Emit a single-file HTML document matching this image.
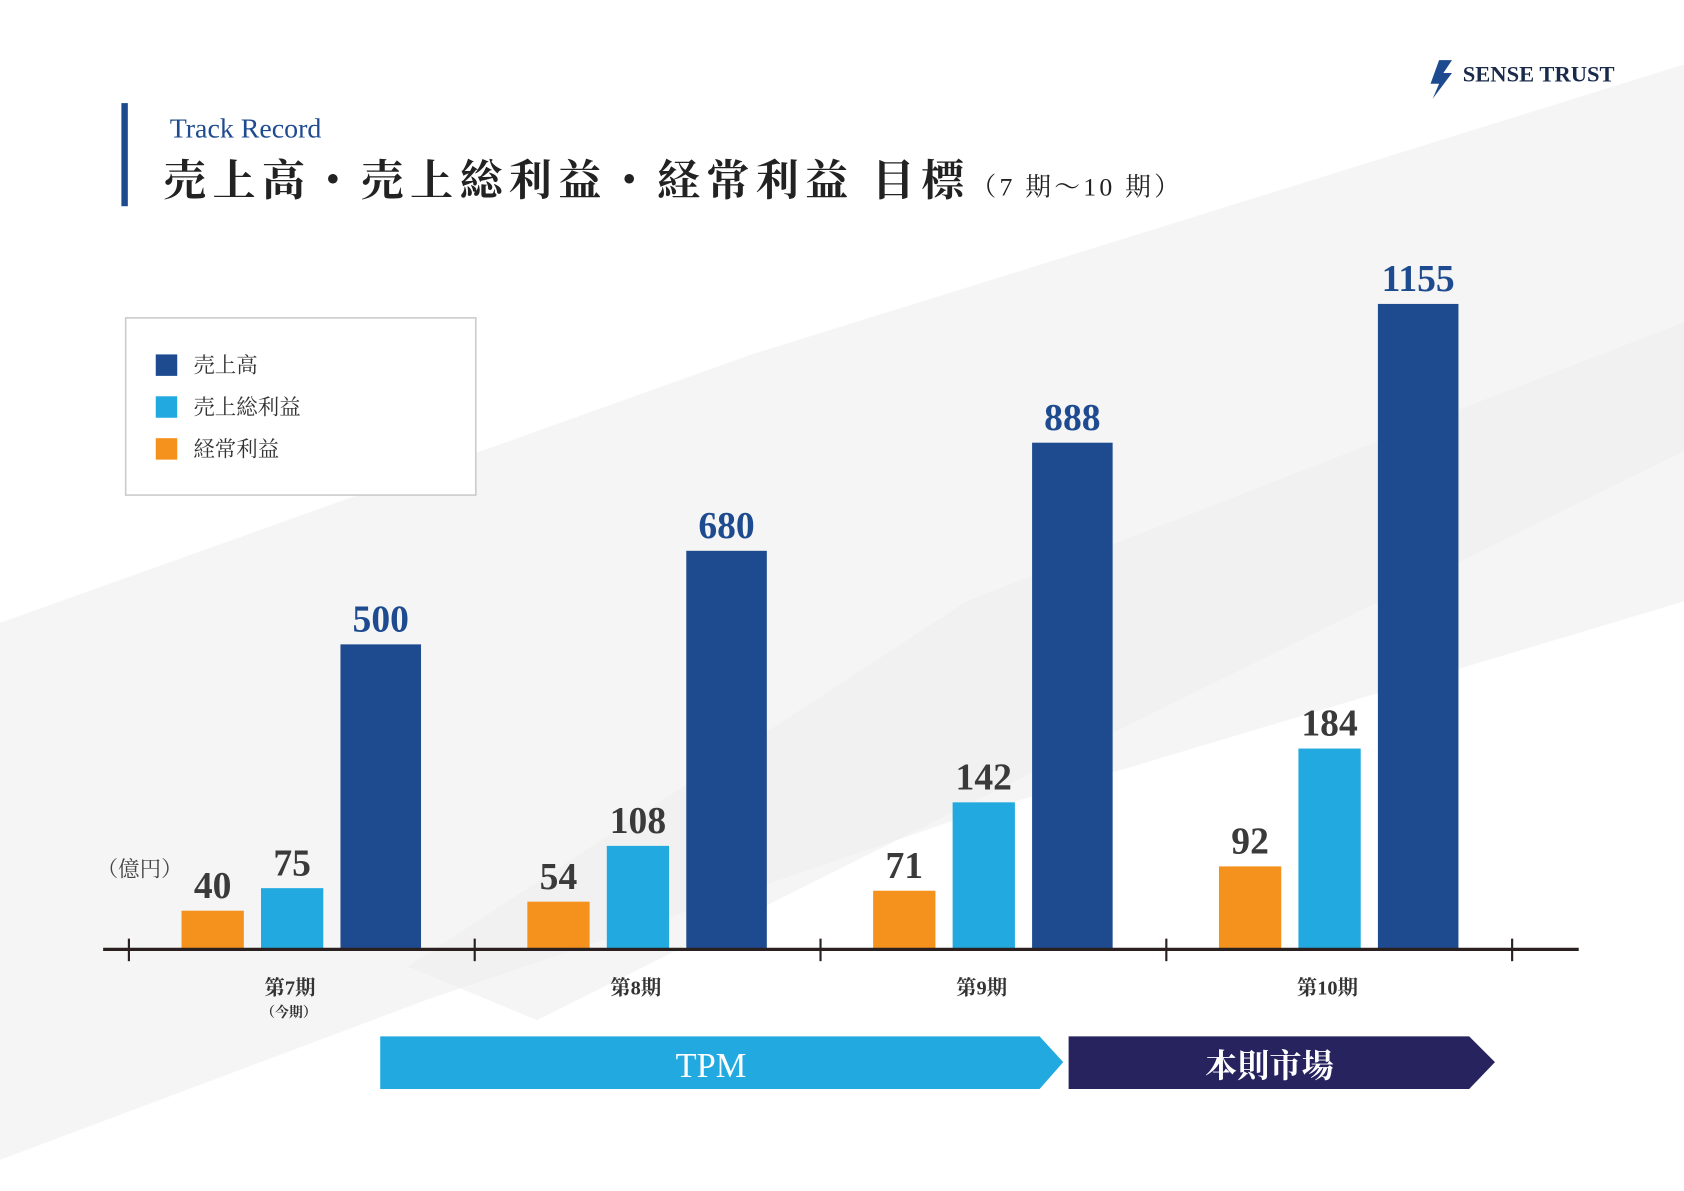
<!DOCTYPE html>
<html><head><meta charset="utf-8"><style>
html,body{margin:0;padding:0;background:#fff}
svg{display:block}
text{font-family:"Liberation Serif","Noto Serif CJK SC","Noto Sans CJK JP",serif}
</style></head><body>
<svg id="chart" width="1684" height="1191" viewBox="0 0 1568 1109" xmlns="http://www.w3.org/2000/svg">
<rect width="1568" height="1109" fill="#fff"/>
<g fill="#f1f2f1">
<polygon points="0,580 700,330 1568,60 1568,560 900,760 400,930 0,1080" opacity="0.8"/>
<polygon points="380,900 900,560 1568,300 1568,420 1000,700 500,950" fill="#eceeed" opacity="0.6"/>
</g>
<g>
<path d="M1340,56 l12,0 -8,12 8,0 -18,24 6,-14 -8,0z" fill="#1e4b8f"/>
<text x="1362" y="76" font-family="Liberation Sans,sans-serif" font-weight="bold" font-size="21" fill="#1a2a4a">SENSE TRUST</text>
</g>
<rect x="113" y="96" width="6" height="96" fill="#1e4b8f"/>
<text x="158" y="128" font-size="26" fill="#1e4b8f">Track Record</text>
<text x="152" y="182" font-size="40" font-weight="bold" fill="#222" letter-spacing="6">売上高・売上総利益・経常利益 目標<tspan font-size="24" font-weight="normal" letter-spacing="3">（7 期〜10 期）</tspan></text>
<g>
<rect x="117" y="296" width="326" height="165" fill="#fff" stroke="#ccc" stroke-width="1.5"/>
<rect x="145" y="330" width="20" height="20" fill="#1e4b8f"/><text x="180" y="347" font-size="20" fill="#333">売上高</text>
<rect x="145" y="369" width="20" height="20" fill="#22aae0"/><text x="180" y="386" font-size="20" fill="#333">売上総利益</text>
<rect x="145" y="408" width="20" height="20" fill="#f5921e"/><text x="180" y="425" font-size="20" fill="#333">経常利益</text>
</g>
<text x="90" y="816" font-size="20" fill="#444">（億円）</text>
<g id="bars"></g>
<line x1="96" y1="884" x2="1470" y2="884" stroke="#2a2020" stroke-width="3"/>
<g id="ticks"></g>
<text x="269" y="947" font-size="13" text-anchor="middle" fill="#333" font-weight="bold">（今期）</text>
<polygon points="354,965 968,965 990,989 968,1014 354,1014" fill="#22aae0"/>
<text x="662" y="1003" font-size="32" text-anchor="middle" fill="#fff">TPM</text>
<polygon points="995,965 1368,965 1392,989 1368,1014 995,1014" fill="#26235e"/>
<text x="1182" y="1003" font-size="30" text-anchor="middle" fill="#fff" font-weight="bold">本則市場</text>
</svg>
<script>
const categories=["第7期","第8期","第9期","第10期"];
const ordinaryProfit=[40,54,71,92];
const grossProfit=[75,108,142,184];
const sales=[500,680,888,1155];
const NS="http://www.w3.org/2000/svg";
const baseY=884;
// piecewise-linear (non-uniform) axis as drawn in the source
const scaleDomain=[0,40,75,184,500,1155];
const scaleRange=[0,36,57,187,284,601];
function yScale(v){
 for(let k=1;k<scaleDomain.length;k++){
  if(v<=scaleDomain[k]||k===scaleDomain.length-1){
   const d0=scaleDomain[k-1],d1=scaleDomain[k],r0=scaleRange[k-1],r1=scaleRange[k];
   return baseY-(r0+(v-d0)/(d1-d0)*(r1-r0));
  }
 }
}
function groupX(i){return 120+i*322;}
const series=[
 {vals:ordinaryProfit,off:49,w:58,color:"#f5921e",lc:"#3a3a3a",name:"ordinary-profit"},
 {vals:grossProfit,off:123,w:58,color:"#22aae0",lc:"#3a3a3a",name:"gross-profit"},
 {vals:sales,off:197,w:75,color:"#1e4b8f",lc:"#1e4b8f",name:"sales"}];
const bars=document.getElementById('bars');
series.forEach(s=>{s.vals.forEach((v,i)=>{
 const x=groupX(i)+s.off,y=yScale(v);
 const r=document.createElementNS(NS,'rect');
 r.setAttribute('x',x);r.setAttribute('y',y);r.setAttribute('width',s.w);r.setAttribute('height',baseY-y);r.setAttribute('fill',s.color);
 
 
 bars.appendChild(r);
 const t=document.createElementNS(NS,'text');
 t.setAttribute('x',x+s.w/2);t.setAttribute('y',y-12);t.setAttribute('text-anchor','middle');
 t.setAttribute('font-size','35');t.setAttribute('font-weight','bold');t.setAttribute('fill',s.lc);
 t.textContent=v;
 
 
 bars.appendChild(t);
});});
const ticks=document.getElementById('ticks');
for(let i=0;i<=categories.length;i++){
 const l=document.createElementNS(NS,'line');
 l.setAttribute('x1',groupX(i));l.setAttribute('x2',groupX(i));l.setAttribute('y1',874);l.setAttribute('y2',895);
 l.setAttribute('stroke','#2a2020');l.setAttribute('stroke-width','2');
 
 
 ticks.appendChild(l);
}
categories.forEach((c,i)=>{
 const t=document.createElementNS(NS,'text');
 t.setAttribute('x',groupX(i)+150);t.setAttribute('y',926);t.setAttribute('text-anchor','middle');
 t.setAttribute('font-size','19');t.setAttribute('font-weight','bold');t.setAttribute('fill','#333');
 t.textContent=c;
 
 
 ticks.appendChild(t);
});
</script>
</body></html>
